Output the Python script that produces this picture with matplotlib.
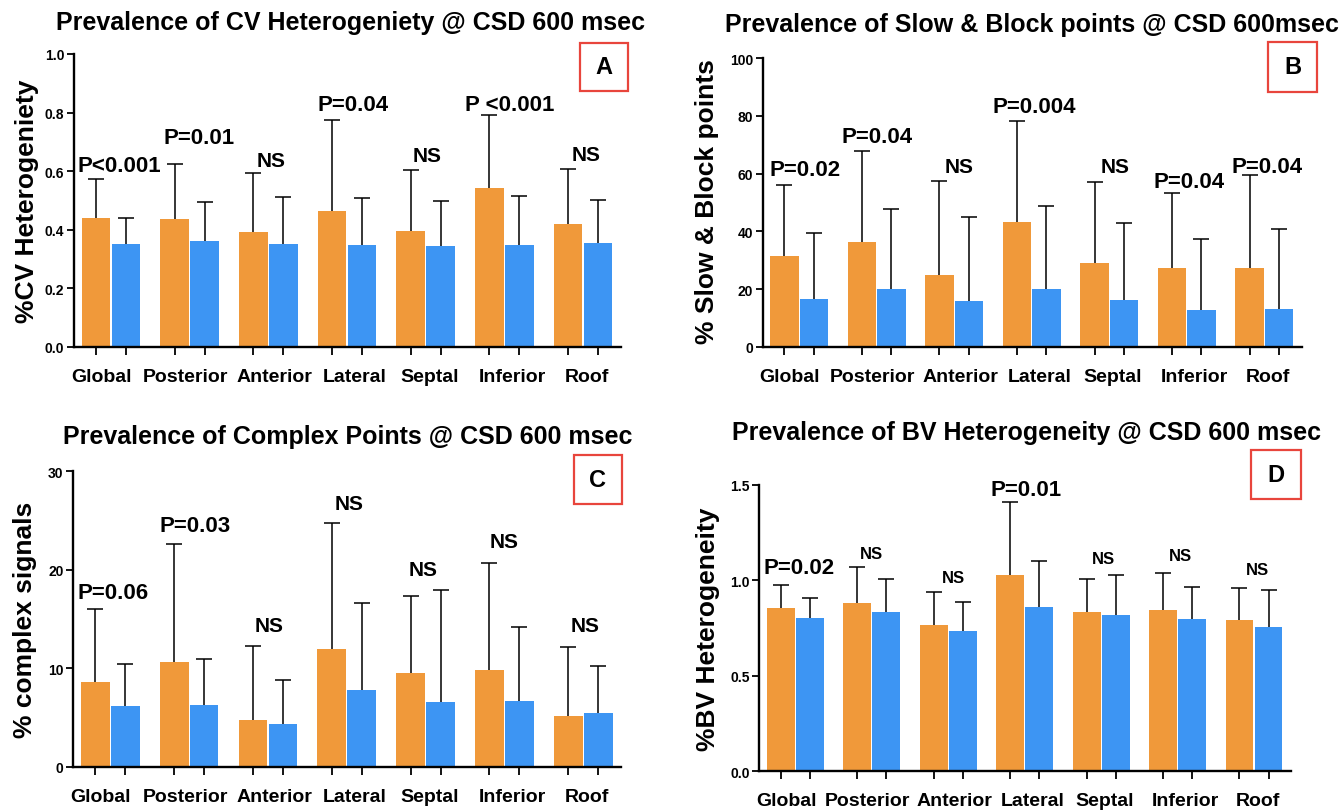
import numpy as np
import matplotlib
matplotlib.use("Agg")
import matplotlib.pyplot as plt
from matplotlib.patches import Rectangle

plt.rcParams['font.family'] = ['Liberation Sans', 'DejaVu Sans']
plt.rcParams['font.weight'] = 'bold'

# ---------------- data ----------------
categories = ['Global', 'Posterior', 'Anterior', 'Lateral', 'Septal', 'Inferior', 'Roof']

# Panel A: CV heterogeneity
cv_orange_mean = [0.440, 0.435, 0.392, 0.463, 0.396, 0.543, 0.419]
cv_orange_sd = [0.134, 0.189, 0.202, 0.310, 0.208, 0.250, 0.187]
cv_blue_mean = [0.350, 0.361, 0.350, 0.347, 0.344, 0.347, 0.355]
cv_blue_sd = [0.090, 0.132, 0.162, 0.160, 0.153, 0.167, 0.146]
cv_pvals = ['P<0.001', 'P=0.01', 'NS', 'P=0.04', 'NS', 'P <0.001', 'NS']

# Panel B: slow & block points
sb_orange_mean = [31.4, 36.2, 24.8, 43.4, 28.9, 27.4, 27.4]
sb_orange_sd = [24.5, 31.6, 32.7, 35.0, 28.3, 26.0, 32.0]
sb_blue_mean = [16.4, 19.9, 15.9, 19.9, 16.2, 12.8, 13.2]
sb_blue_sd = [23.0, 28.0, 29.2, 29.0, 26.8, 24.7, 27.6]
sb_pvals = ['P=0.02', 'P=0.04', 'NS', 'P=0.004', 'NS', 'P=0.04', 'P=0.04']

# Panel C: complex points
cx_orange_mean = [8.63, 10.65, 4.75, 11.97, 9.47, 9.81, 5.16]
cx_orange_sd = [7.37, 11.95, 7.55, 12.73, 7.83, 10.89, 7.01]
cx_blue_mean = [6.17, 6.24, 4.31, 7.79, 6.60, 6.67, 5.43]
cx_blue_sd = [4.28, 4.71, 4.49, 8.81, 11.36, 7.53, 4.75]
cx_pvals = ['P=0.06', 'P=0.03', 'NS', 'NS', 'NS', 'NS', 'NS']

# Panel D: BV heterogeneity
bv_orange_mean = [0.858, 0.880, 0.768, 1.027, 0.837, 0.845, 0.795]
bv_orange_sd = [0.117, 0.191, 0.172, 0.386, 0.171, 0.196, 0.166]
bv_blue_mean = [0.802, 0.837, 0.737, 0.863, 0.817, 0.796, 0.758]
bv_blue_sd = [0.106, 0.173, 0.150, 0.241, 0.210, 0.170, 0.192]
bv_pvals = ['P=0.02', 'NS', 'NS', 'P=0.01', 'NS', 'NS', 'NS']

# ---------------- layout ----------------
W, H = 1341, 812
ORANGE = '#F0993A'
BLUE = '#3D95F3'
RED = '#E8453C'

fig = plt.figure(figsize=(W / 100, H / 100), dpi=100)


def px_rect(l, r, t, b):
    return [l / W, 1 - b / H, (r - l) / W, (b - t) / H]


# category label positions (slightly spread, as in the original)
label_pos = [-0.12, 0.95, 2.08, 3.10, 4.05, 5.10, 6.05]

panels = [
    dict(rect=(74, 620.7, 55, 347.7), ylim=(0, 1.0), yticks=[0, 0.2, 0.4, 0.6, 0.8, 1.0], fmt='{:.1f}',
         om=cv_orange_mean, osd=cv_orange_sd, bm=cv_blue_mean, bsd=cv_blue_sd, pv=cv_pvals,
         pv_x=[0.10, 1.12, 2.04, 3.08, 4.02, 5.07, 6.04],
         pv_y=[0.599, 0.696, 0.616, 0.81, 0.633, 0.81, 0.639],
         pv_fs=[16, 16, 15, 16, 15, 16, 15],
         title='Prevalence of CV Heterogeniety @ CSD 600 msec', title_xy=(351, 23),
         ylabel='%CV Heterogeniety', ylabel_xy=(27, 201), box=(580, 628, 44, 92), letter='A'),
    dict(rect=(762.7, 1301.5, 59.3, 347.7), ylim=(0, 100), yticks=[0, 20, 40, 60, 80, 100], fmt='{:.0f}',
         om=sb_orange_mean, osd=sb_orange_sd, bm=sb_blue_mean, bsd=sb_blue_sd, pv=sb_pvals,
         pv_x=[0.07, 1.0, 2.07, 3.03, 4.07, 5.03, 6.03],
         pv_y=[59.5, 71.0, 60.7, 81.4, 60.7, 55.5, 60.7],
         pv_fs=[16, 16, 15, 16, 15, 16, 16],
         title='Prevalence of Slow & Block points @ CSD 600msec', title_xy=(1032, 25),
         ylabel='% Slow & Block points', ylabel_xy=(707, 202), box=(1268, 1317, 43, 93), letter='B'),
    dict(rect=(73.3, 621, 472.3, 767.7), ylim=(0, 30), yticks=[0, 10, 20, 30], fmt='{:.0f}',
         om=cx_orange_mean, osd=cx_orange_sd, bm=cx_blue_mean, bsd=cx_blue_sd, pv=cx_pvals,
         pv_x=[0.03, 1.08, 2.02, 3.03, 3.97, 5.0, 6.02],
         pv_y=[17.1, 23.9, 13.75, 26.2, 19.5, 22.3, 13.75],
         pv_fs=[16, 16, 15, 15, 15, 15, 15],
         title='Prevalence of Complex Points @ CSD 600 msec', title_xy=(348, 437),
         ylabel='% complex signals', ylabel_xy=(25, 620), box=(574, 622, 456, 505), letter='C'),
    dict(rect=(759.3, 1290.7, 486, 772.3), ylim=(0, 1.5), yticks=[0, 0.5, 1.0, 1.5], fmt='{:.1f}',
         om=bv_orange_mean, osd=bv_orange_sd, bm=bv_blue_mean, bsd=bv_blue_sd, pv=bv_pvals,
         pv_x=[0.05, 1.0, 2.07, 3.02, 4.03, 5.04, 6.04],
         pv_y=[1.04, 1.12, 0.99, 1.45, 1.09, 1.108, 1.033],
         pv_fs=[16, 12, 12, 16, 12, 12, 12],
         title='Prevalence of BV Heterogeneity @ CSD 600 msec', title_xy=(1026, 433),
         ylabel='%BV Heterogeneity', ylabel_xy=(708, 629), box=(1251, 1301, 451, 500), letter='D'),
]

x = np.arange(len(categories))
off = 0.19
bw = 0.365

for p in panels:
    ax = fig.add_axes(px_rect(*p['rect']))
    ax.bar(x - off, p['om'], width=bw, color=ORANGE, zorder=2)
    ax.bar(x + off, p['bm'], width=bw, color=BLUE, zorder=2)
    for xs, m, sd in [(x - off, p['om'], p['osd']), (x + off, p['bm'], p['bsd'])]:
        eb = ax.errorbar(xs, m, yerr=[np.zeros(len(m)), sd], fmt='none', ecolor='black',
                         elinewidth=1.1, capsize=5.5, capthick=1.1, zorder=3)
        eb[1][0].set_visible(False)
    for xi, yi, lab, fs in zip(p['pv_x'], p['pv_y'], p['pv'], p['pv_fs']):
        ax.text(xi, yi, lab, ha='center', va='baseline', fontsize=fs, fontweight='bold')

    ax.set_xlim(-0.47, 6.48)
    ax.set_ylim(*p['ylim'])
    ax.set_yticks(p['yticks'])
    ax.set_yticklabels([p['fmt'].format(v) for v in p['yticks']], fontsize=10, fontweight='bold')
    ax.set_xticks(label_pos)
    ax.set_xticklabels(categories, fontsize=14, fontweight='bold')
    ax.set_xticks(np.concatenate([x - off, x + off]), minor=True)
    ax.tick_params(axis='x', which='major', length=0, pad=15)
    ax.tick_params(axis='x', which='minor', length=5.5, width=1.3, direction='out')
    ax.tick_params(axis='y', length=5, width=1.3, pad=2)
    for s in ['top', 'right']:
        ax.spines[s].set_visible(False)
    for s in ['left', 'bottom']:
        ax.spines[s].set_linewidth(1.7)

    tx, ty = p['title_xy']
    fig.text(tx / W, 1 - ty / H, p['title'], ha='center', va='center', fontsize=18, fontweight='bold')
    lx, ly = p['ylabel_xy']
    fig.text(lx / W, 1 - ly / H, p['ylabel'], ha='center', va='center', rotation=90,
             fontsize=19, fontweight='bold')
    bl, br, bt, bb = p['box']
    fig.patches.append(Rectangle((bl / W, 1 - bb / H), (br - bl) / W, (bb - bt) / H,
                                 transform=fig.transFigure, fill=False, edgecolor=RED, linewidth=1.6))
    fig.text((bl + br) / 2 / W, 1 - (bt + bb) / 2 / H, p['letter'], ha='center', va='center',
             fontsize=17, fontweight='bold')

fig.savefig('out.png', dpi=100)
